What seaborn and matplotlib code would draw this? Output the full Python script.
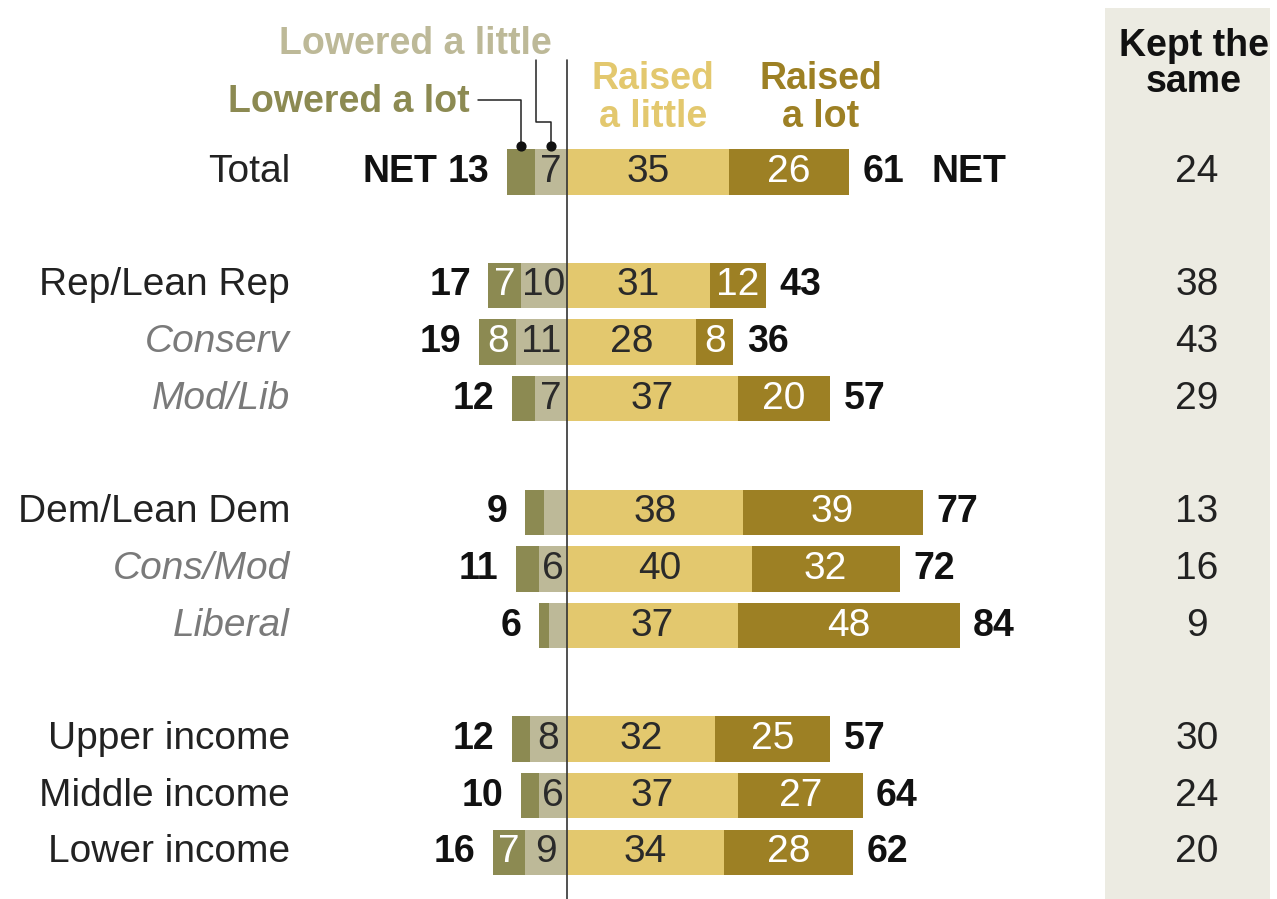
import matplotlib
matplotlib.use("Agg")
import matplotlib.pyplot as plt
import seaborn as sns
import pandas as pd
import numpy as np
from matplotlib.patches import Rectangle

# ---------------- data ----------------
categories = ["Total", "Rep/Lean Rep", "Conserv", "Mod/Lib",
              "Dem/Lean Dem", "Cons/Mod", "Liberal",
              "Upper income", "Middle income", "Lower income"]
italic_rows = ["Conserv", "Mod/Lib", "Cons/Mod", "Liberal"]
lowered_lot = [6, 7, 8, 5, 4, 5, 2, 4, 4, 7]
lowered_little = [7, 10, 11, 7, 5, 6, 4, 8, 6, 9]
lowered_net = [13, 17, 19, 12, 9, 11, 6, 12, 10, 16]
raised_little = [35, 31, 28, 37, 38, 40, 37, 32, 37, 34]
raised_lot = [26, 12, 8, 20, 39, 32, 48, 25, 27, 28]
raised_net = [61, 43, 36, 57, 77, 72, 84, 57, 64, 62]
kept_same = [24, 38, 43, 29, 13, 16, 9, 30, 24, 20]
row_pos = [0, 2, 3, 4, 6, 7, 8, 10, 11, 12]

C_LLOT = "#8c8a52"
C_LLIT = "#bdb998"
C_RLIT = "#e3c86e"
C_RLOT = "#9d8024"
C_PANEL = "#ecebe2"

sns.set_theme(style="white")
plt.rcParams["font.family"] = ["Liberation Sans", "DejaVu Sans"]

W, H = 1277, 899
fig = plt.figure(figsize=(W / 100, H / 100), dpi=100)
ax = fig.add_axes([0, 0, 1, 1])

PX_UNIT = 4.62
CX = 567
Y0, DY = 172, 56.7

def xd(px):
    return (px - CX) / PX_UNIT

def yd(py):
    return (py - Y0) / DY

df = pd.DataFrame({
    "cat": categories, "pos": row_pos,
    "ll": lowered_lot, "lt": lowered_little,
    "rl": raised_little, "rt": raised_lot,
})
df["neg_total"] = -(df["ll"] + df["lt"])
df["neg_little"] = -df["lt"]
df["pos_total"] = df["rl"] + df["rt"]

# kept-the-same panel
ax.add_patch(Rectangle((xd(1105), yd(8)), xd(1270) - xd(1105), yd(905) - yd(8),
                       facecolor=C_PANEL, edgecolor="none", zorder=0))

common = dict(data=df, y="pos", orient="h", native_scale=True, width=0.8,
              saturation=1, errorbar=None, linewidth=0, ax=ax)
sns.barplot(x="neg_total", color=C_LLOT, **common)
sns.barplot(x="neg_little", color=C_LLIT, **common)
sns.barplot(x="pos_total", color=C_RLOT, **common)
sns.barplot(x="rl", color=C_RLIT, **common)

ax.set_xlim(xd(0), xd(W))
ax.set_ylim(yd(H), yd(0))
ax.axis("off")

# center line
ax.plot([0, 0], [yd(60), yd(H)], color="#333333", lw=1.2, zorder=5)

FS = 28   # regular text
FB = 27   # bold text
for i, cat in enumerate(categories):
    y = row_pos[i]
    ll, lt, rl, rt = lowered_lot[i], lowered_little[i], raised_little[i], raised_lot[i]
    # category label
    if cat in italic_rows:
        ax.text(xd(290), y, cat, ha="right", va="center", fontsize=FS,
                style="italic", color="#7a7a7a")
    else:
        ax.text(xd(290), y, cat, ha="right", va="center", fontsize=FS, color="#222222")
    # segment labels
    if ll >= 7:
        ax.text(-(lt + ll / 2), y, str(ll), ha="center", va="center",
                fontsize=FS, color="white", zorder=6)
    if lt >= 6:
        ax.text(-lt / 2, y, str(lt), ha="center", va="center",
                fontsize=FS, color="#2a2a2a", zorder=6)
    ax.text(rl / 2, y, str(rl), ha="center", va="center",
            fontsize=FS, color="#2a2a2a", zorder=6)
    ax.text(rl + rt / 2, y, str(rt), ha="center", va="center",
            fontsize=FS, color="white", zorder=6)
    # nets
    ax.text(-(ll + lt) - 3.8, y, str(lowered_net[i]), ha="right", va="center",
            fontsize=FB, fontweight="bold", color="#111111")
    ax.text(rl + rt + 2.9, y, str(raised_net[i]), ha="left", va="center",
            fontsize=FB, fontweight="bold", color="#111111")
    # kept same
    ax.text(xd(1197), y, str(kept_same[i]), ha="center", va="center",
            fontsize=FS, color="#222222")

ax.text(xd(437), row_pos[0], "NET", ha="right", va="center",
        fontsize=FB, fontweight="bold", color="#111111")
ax.text(xd(932), row_pos[0], "NET", ha="left", va="center",
        fontsize=FB, fontweight="bold", color="#111111")

# headers
ax.text(xd(1194), yd(64), "Kept the\nsame", ha="center", va="center",
        fontsize=FB, fontweight="bold", color="#111111", linespacing=1.0)
ax.text(xd(653), yd(98), "Raised\na little", ha="center", va="center",
        fontsize=FB, fontweight="bold", color=C_RLIT, linespacing=1.05)
ax.text(xd(821), yd(98), "Raised\na lot", ha="center", va="center",
        fontsize=FB, fontweight="bold", color=C_RLOT, linespacing=1.05)
ax.text(xd(552), yd(44), "Lowered a little", ha="right", va="center",
        fontsize=FB, fontweight="bold", color=C_LLIT)
ax.text(xd(470), yd(102), "Lowered a lot", ha="right", va="center",
        fontsize=FB, fontweight="bold", color=C_LLOT)

# leader lines to Total segments
lot_c = -(lowered_little[0] + lowered_lot[0] / 2)
lit_c = -lowered_little[0] / 2
dot_y = yd(146)
ax.plot([xd(478), lot_c, lot_c], [yd(100), yd(100), dot_y],
        color="#222222", lw=1.1, zorder=7)
ax.plot([xd(536), xd(536), lit_c, lit_c], [yd(60), yd(122), yd(122), dot_y],
        color="#222222", lw=1.1, zorder=7)
ax.scatter([lot_c, lit_c], [dot_y, dot_y], s=40, color="#111111", zorder=8)

fig.savefig("out.png", dpi=100)
